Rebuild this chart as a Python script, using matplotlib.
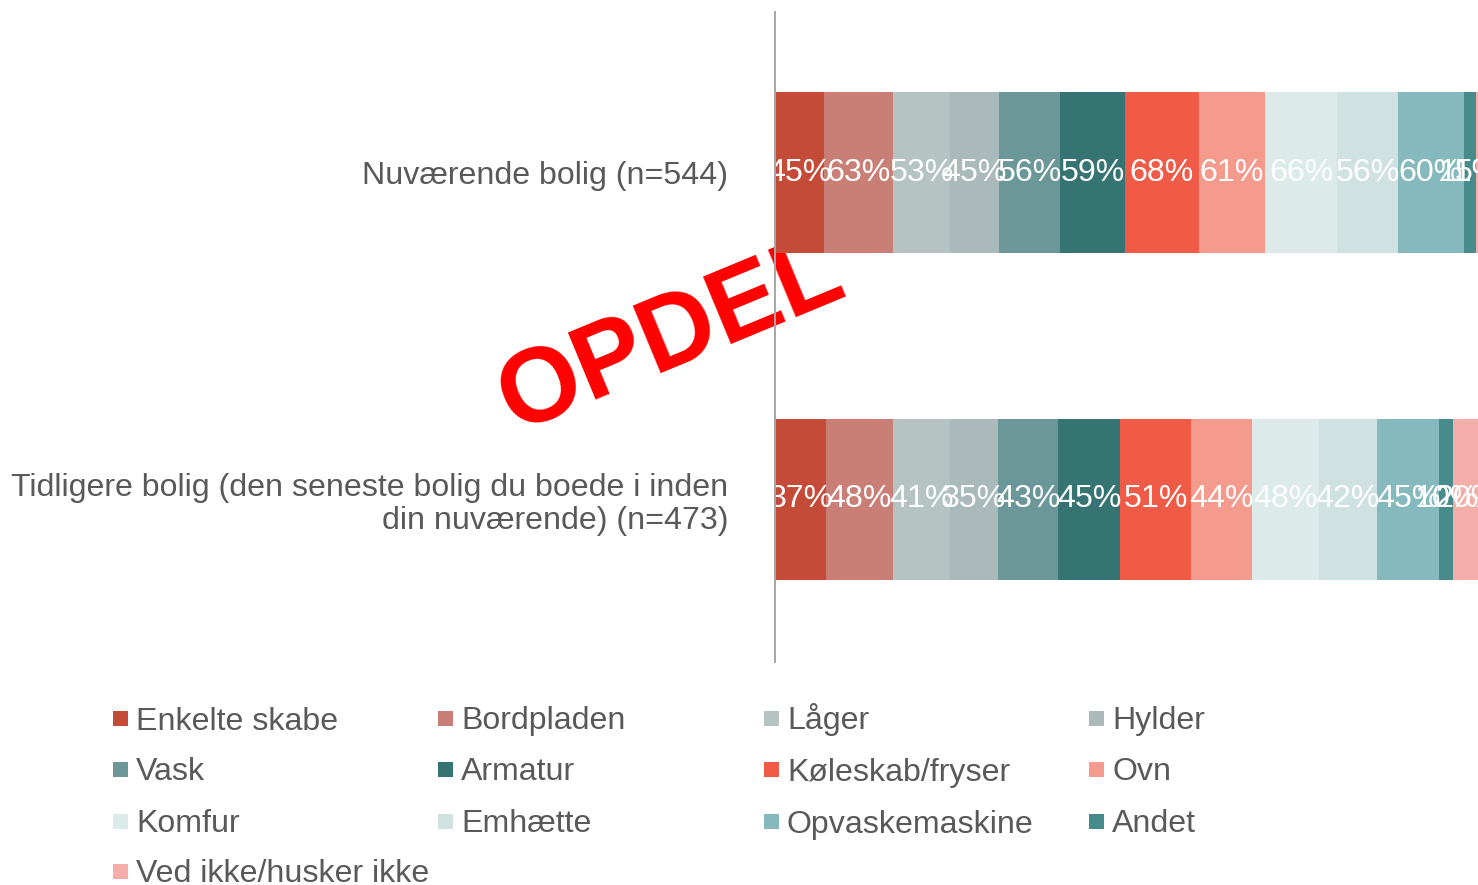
import matplotlib
matplotlib.use("Agg")
import matplotlib.pyplot as plt
from matplotlib.patches import Rectangle
import numpy as np

# ---- data ----
categories = ["Nuværende bolig (n=544)",
              "Tidligere bolig (den seneste bolig du boede i inden\ndin nuværende) (n=473)"]
series = ["Enkelte skabe", "Bordpladen", "Låger", "Hylder", "Vask", "Armatur",
          "Køleskab/fryser", "Ovn", "Komfur", "Emhætte", "Opvaskemaskine", "Andet",
          "Ved ikke/husker ikke"]
current = [45, 63, 53, 45, 56, 59, 68, 61, 66, 56, 60, 11, 5]
previous = [37, 48, 41, 35, 43, 45, 51, 44, 48, 42, 45, 10, 20]
colors = ["#C44B38", "#C97F76", "#B5C3C3", "#AAB9B9", "#6B9799", "#367373",
          "#EF5B46", "#F49B8E", "#DCEAE9", "#CFE2E1", "#86B9BD", "#478B8A",
          "#F4ADA8"]

FONT = "Liberation Sans"
TXT = "#595959"
FS = 23.1

W, H = 1478, 885
fig = plt.figure(figsize=(W / 100, H / 100), dpi=100)
fig.patch.set_facecolor("white")

ax_left, ax_right, ax_top, ax_bot = 775, 1481, 12, 662
ax = fig.add_axes([ax_left / W, 1 - ax_bot / H, (ax_right - ax_left) / W, (ax_bot - ax_top) / H])
ax.patch.set_visible(False)

data = np.array([current, previous], dtype=float)
totals = data.sum(axis=1, keepdims=True)
shares = data / totals * 100
ypos = np.arange(len(categories))
left = np.zeros(len(categories))
for i, name in enumerate(series):
    bars = ax.barh(ypos, shares[:, i], left=left, height=0.492, color=colors[i],
                   edgecolor="none", zorder=2)
    labs = ax.bar_label(bars, labels=[f"{int(v)}%" for v in data[:, i]],
                        label_type="center", color="white", fontsize=FS,
                        fontfamily=FONT, zorder=3)
    for t in labs:
        t.set_clip_on(True)
    left += shares[:, i]

ax.set_xlim(0, 100)
ax.set_ylim(1.497, -0.491)
ax.set_yticks(ypos)
ax.set_yticklabels(categories, fontsize=FS, fontfamily=FONT, color=TXT, ha="right",
                   linespacing=1.15)
ax.tick_params(axis="y", length=0, pad=33.5)
ax.set_xticks([])
for s in ["top", "right", "bottom"]:
    ax.spines[s].set_visible(False)
ax.spines["left"].set_color("#A6A6A6")
ax.spines["left"].set_linewidth(1.4)
ax.spines["left"].set_zorder(5)

# ---- legend (row-major, 4 columns) ----
col_x = [113, 438, 764, 1089]
row_y = [718, 769, 821, 871]
msize = 15
for k, (name, c) in enumerate(zip(series, colors)):
    r, cidx = divmod(k, 4)
    x0, y0 = col_x[cidx], row_y[r]
    fig.add_artist(Rectangle((x0 / W, 1 - (y0 + msize / 2) / H), msize / W, msize / H,
                             transform=fig.transFigure, facecolor=c, edgecolor="none"))
    fig.text((x0 + 23) / W, 1 - (y0 + 11.5) / H, name, fontsize=FS, fontfamily=FONT,
             color=TXT, ha="left", va="baseline")

# ---- stamp ----
fig.text(671 / W, 1 - 337 / H, "OPDEL", fontsize=76, fontweight="bold", fontfamily=FONT,
         color="#FF0000", rotation=22.5, ha="center", va="center",
         rotation_mode="anchor", zorder=-1)

fig.savefig("out.png", dpi=100)
